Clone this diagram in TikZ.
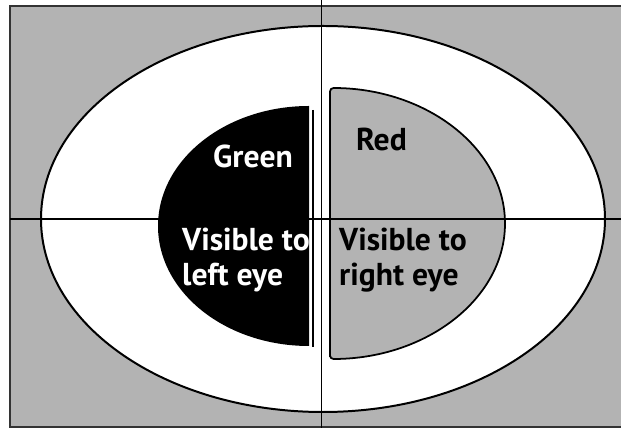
\documentclass[tikz,border=0pt]{standalone}
\usepackage{fontspec}
\setmainfont{PT Sans}
\usepackage{xcolor}
\usetikzlibrary{positioning}
\definecolor{FieldGray}{HTML}{B3B3B3}
\definecolor{FrameGray}{HTML}{333333}

\begin{document}
\begin{tikzpicture}[x=0.03cm,y=0.03cm,
  backdrop/.style={draw=FrameGray,line width=1.6pt,fill=FieldGray},
  outline/.style={draw=black,line width=1.7pt},
  crossline/.style={draw=black,line width=1.5pt},
  lefthalf/.style={fill=black},
  righthalf/.style={draw=black,line width=1.5pt,fill=FieldGray,rounded corners=3pt},
  whitelabel/.style={text=white,font=\fontsize{27}{29.5}\selectfont\bfseries,align=left,inner sep=0pt},
  blacklabel/.style={text=black,font=\fontsize{27}{29.5}\selectfont\bfseries,align=left,inner sep=0pt}
]
\useasboundingbox (0,0) rectangle (621,428);
% background and field of view
\fill[white] (0,0) rectangle (621,428);
\draw[backdrop] (10,1) rectangle (626,422);
\draw[outline,fill=white] (323,209) ellipse[x radius=282,y radius=193];

% the two half fields
\path[lefthalf] (309,322) arc[start angle=90,end angle=270,x radius=151,y radius=120] -- cycle;
\draw[black,line width=1pt] (313,318) -- (313,81);
\draw[righthalf] (330,69) -- (330,340) arc[start angle=90,end angle=-90,x radius=175,y radius=135.5] -- cycle;

% cross hairs
\coordinate (top) at (321.5,428);
\coordinate (bottom) at (321.5,0);
\coordinate (west) at (10,209);
\coordinate (east) at (621,209);
\draw[crossline] (top) -- (bottom);
\draw[crossline] (west) -- (east);

% labels
\node[whitelabel] (green) at (253,272) {Green};
\node[whitelabel,anchor=north west] (leftvis) at (182,200) {Visible to\\left eye};
\node[blacklabel] (red) at (381.5,289) {Red};
\node[blacklabel,anchor=north west] (rightvis) at (339,200) {Visible to\\right eye};
\end{tikzpicture}
\end{document}
